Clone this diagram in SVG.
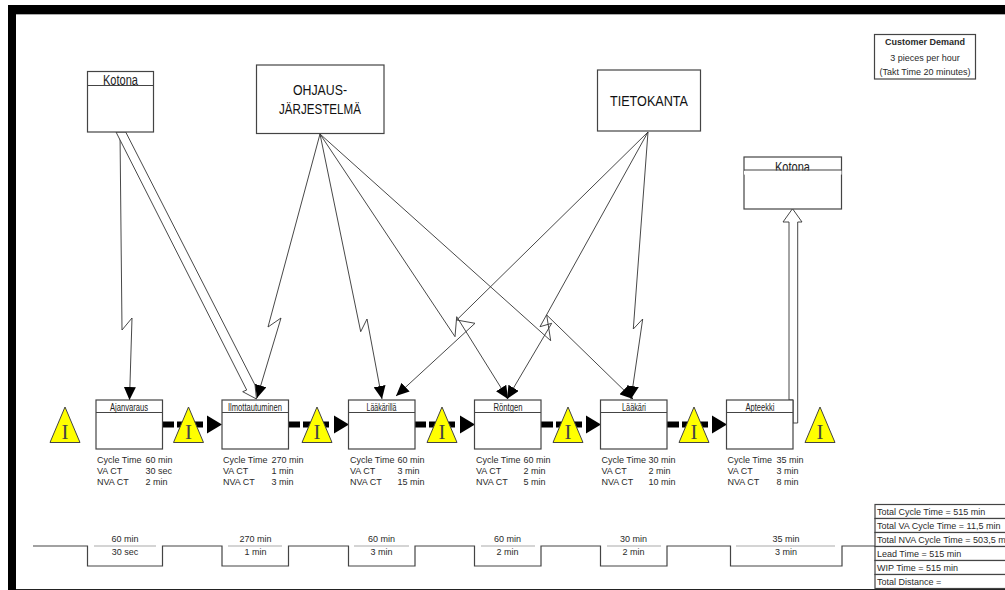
<svg xmlns="http://www.w3.org/2000/svg" width="1005" height="590" viewBox="0 0 1005 590">
<style>
text{font-family:"Liberation Sans",Arial,sans-serif;font-size:9px;fill:#2a2a2a}
.c{text-anchor:middle}
.h{font-size:11px;fill:#222}
.box{fill:#fff;stroke:#444;stroke-width:1.2}
.ln{fill:none;stroke:#444;stroke-width:1.2}
.zig{fill:none;stroke:#333;stroke-width:.9;marker-end:url(#head)}
.out{fill:#fff;stroke:#333;stroke-width:.9}
.push{fill:none;stroke:#000;stroke-width:6;stroke-dasharray:12 3 26 100}
.tri{fill:#ffff00;stroke:#444;stroke-width:1}
.inv{font-family:"Liberation Serif",serif;font-size:21px;fill:#444;text-anchor:middle}
.tl{font-size:9px;text-anchor:middle}
.big{font-size:15px;text-anchor:middle;fill:#111}
.kt{font-size:14px;text-anchor:middle;fill:#222}
.gray{stroke:#aaa;stroke-width:1.2;fill:none}
</style>
<defs>
<marker id="head" markerUnits="userSpaceOnUse" markerWidth="14" markerHeight="12" refX="13" refY="6" orient="auto"><path d="M0 0L13 6L0 12Z" fill="#000"/></marker>
<marker id="pushhead" markerUnits="userSpaceOnUse" markerWidth="16" markerHeight="20" refX="15" refY="10" orient="auto"><path d="M0 1L15 10L0 19Z" fill="#000"/></marker>
</defs>
<g id="frame">
<rect x="8" y="5" width="997" height="9" fill="#000"/>
<rect x="8" y="5" width="8" height="585" fill="#000"/>
<rect x="16" y="14" width="989" height="1" fill="#aaa"/>
<rect x="16" y="589" width="989" height="1" fill="#222"/>
</g>
<g id="connectors">
<polyline class="zig" points="120,132 122,330 132,318 129.500,400"/>
<polygon class="out" points="116,132 125.700,132 255,385 256.500,399 242.700,391.700 246.700,390"/>
<polyline class="zig" points="320,134 268,327 281,318 257,398"/>
<polyline class="zig" points="320,134 360.700,331.700 367,319 382,399"/>
<polyline class="zig" points="320,134 455,336.700 456.700,316.700 508,399"/>
<polyline class="zig" points="320,134 550.700,340.700 546.700,315 633,399"/>
<polyline class="zig" points="648,132 456.700,320 475,323.300 396,396"/>
<polyline class="zig" points="648,132 540,326.700 551.700,323.300 507,399"/>
<polyline class="zig" points="648,132 633.300,329 642.700,319 631,399"/>
<line class="push" x1="162" y1="424.500" x2="222" y2="424.500" marker-end="url(#pushhead)"/>
<line class="push" x1="288" y1="424.500" x2="349" y2="424.500" marker-end="url(#pushhead)"/>
<line class="push" x1="414" y1="424.500" x2="475" y2="424.500" marker-end="url(#pushhead)"/>
<line class="push" x1="541" y1="424.500" x2="601" y2="424.500" marker-end="url(#pushhead)"/>
<line class="push" x1="667" y1="424.500" x2="727" y2="424.500" marker-end="url(#pushhead)"/>
<polygon class="out" points="789,400 789,222 783,222 792.500,208.700 802,222 797.700,222 797.700,423 793,423 793,400"/>
</g>
<g id="kotona-1"><rect class="box" x="87.500" y="71.500" width="66" height="60.500"/><text class="kt" x="120.500" y="84.500" textLength="35" lengthAdjust="spacingAndGlyphs">Kotona</text><line class="ln" x1="87.500" y1="85.500" x2="153.500" y2="85.500"/></g>
<g id="ohjausjarjestelma"><rect class="box" x="256.500" y="65" width="127.500" height="68.500"/><text class="big" x="320" y="95" textLength="54" lengthAdjust="spacingAndGlyphs">OHJAUS-</text><text class="big" x="320" y="114" textLength="82" lengthAdjust="spacingAndGlyphs">JÄRJESTELMÄ</text></g>
<g id="tietokanta"><rect class="box" x="597.500" y="70" width="103" height="61"/><text class="big" x="649" y="106" textLength="78" lengthAdjust="spacingAndGlyphs">TIETOKANTA</text></g>
<g id="kotona-2"><rect class="box" x="744" y="157" width="97.500" height="52"/><text class="kt" x="792.500" y="171.500" textLength="35" lengthAdjust="spacingAndGlyphs">Kotona</text><rect x="744" y="170.600" width="97.500" height="4" fill="#fff"/><line class="ln" x1="744" y1="170" x2="841.500" y2="170"/></g>
<g id="customer-demand"><rect class="box" x="874.500" y="34.500" width="101" height="44.500"/><text class="c" x="925" y="44.500" font-weight="700">Customer Demand</text><text class="c" x="925" y="61">3 pieces per hour</text><text class="c" x="925" y="75">(Takt Time 20 minutes)</text></g>
<g id="inv-1"><polygon class="tri" points="65,407 50,442.500 80,442.500"/><text class="inv" x="65" y="439">I</text></g>
<g id="inv-2"><polygon class="tri" points="188.500,407 173.500,442.500 203.500,442.500"/><text class="inv" x="188.500" y="439">I</text></g>
<g id="inv-3"><polygon class="tri" points="317,407 302,442.500 332,442.500"/><text class="inv" x="317" y="439">I</text></g>
<g id="inv-4"><polygon class="tri" points="442,407 427,442.500 457,442.500"/><text class="inv" x="442" y="439">I</text></g>
<g id="inv-5"><polygon class="tri" points="568,407 553,442.500 583,442.500"/><text class="inv" x="568" y="439">I</text></g>
<g id="inv-6"><polygon class="tri" points="694,407 679,442.500 709,442.500"/><text class="inv" x="694" y="439">I</text></g>
<g id="inv-7"><polygon class="tri" points="820,407 805,442.500 835,442.500"/><text class="inv" x="820" y="439">I</text></g>
<g id="p-ajanvaraus"><rect class="box" x="96" y="400" width="66.500" height="49"/><line class="ln" x1="96" y1="412.500" x2="162.500" y2="412.500"/><text class="c h" x="129" y="410.500" textLength="38" lengthAdjust="spacingAndGlyphs">Ajanvaraus</text>
<text x="97" y="463">Cycle Time</text><text x="145.500" y="463">60 min</text><text x="97" y="474">VA CT</text><text x="145.500" y="474">30 sec</text><text x="97" y="484.500">NVA CT</text><text x="145.500" y="484.500">2 min</text></g>
<g id="p-ilmottautuminen"><rect class="box" x="222" y="400" width="66.500" height="49"/><line class="ln" x1="222" y1="412.500" x2="288.500" y2="412.500"/><text class="c h" x="255" y="410.500" textLength="54" lengthAdjust="spacingAndGlyphs">Ilmottautuminen</text>
<text x="223" y="463">Cycle Time</text><text x="271.500" y="463">270 min</text><text x="223" y="474">VA CT</text><text x="271.500" y="474">1 min</text><text x="223" y="484.500">NVA CT</text><text x="271.500" y="484.500">3 min</text></g>
<g id="p-laakarilla"><rect class="box" x="348.500" y="400" width="66.500" height="49"/><line class="ln" x1="348.500" y1="412.500" x2="415" y2="412.500"/><text class="c h" x="381.500" y="410.500" textLength="30" lengthAdjust="spacingAndGlyphs">Lääkärillä</text>
<text x="350" y="463">Cycle Time</text><text x="397.500" y="463">60 min</text><text x="350" y="474">VA CT</text><text x="397.500" y="474">3 min</text><text x="350" y="484.500">NVA CT</text><text x="397.500" y="484.500">15 min</text></g>
<g id="p-rontgen"><rect class="box" x="474.500" y="400" width="66.500" height="49"/><line class="ln" x1="474.500" y1="412.500" x2="541" y2="412.500"/><text class="c h" x="508" y="410.500" textLength="29" lengthAdjust="spacingAndGlyphs">Röntgen</text>
<text x="476" y="463">Cycle Time</text><text x="523.500" y="463">60 min</text><text x="476" y="474">VA CT</text><text x="523.500" y="474">2 min</text><text x="476" y="484.500">NVA CT</text><text x="523.500" y="484.500">5 min</text></g>
<g id="p-laakari"><rect class="box" x="600.500" y="400" width="66.500" height="49"/><line class="ln" x1="600.500" y1="412.500" x2="667" y2="412.500"/><text class="c h" x="634" y="410.500" textLength="24" lengthAdjust="spacingAndGlyphs">Lääkäri</text>
<text x="601.500" y="463">Cycle Time</text><text x="648.500" y="463">30 min</text><text x="601.500" y="474">VA CT</text><text x="648.500" y="474">2 min</text><text x="601.500" y="484.500">NVA CT</text><text x="648.500" y="484.500">10 min</text></g>
<g id="p-apteekki"><rect class="box" x="726.500" y="400" width="66.500" height="49"/><line class="ln" x1="726.500" y1="412.500" x2="793" y2="412.500"/><text class="c h" x="760" y="410.500" textLength="29" lengthAdjust="spacingAndGlyphs">Apteekki</text>
<text x="727.500" y="463">Cycle Time</text><text x="776.500" y="463">35 min</text><text x="727.500" y="474">VA CT</text><text x="776.500" y="474">3 min</text><text x="727.500" y="484.500">NVA CT</text><text x="776.500" y="484.500">8 min</text></g>
<g id="timeline">
<polyline class="ln" points="33,546 87.500,546 87.500,566 162.500,566 162.500,546 222,546 222,566 288.500,566 288.500,546 348.500,546 348.500,566 415,566 415,546 474.500,546 474.500,566 541,566 541,546 600.500,546 600.500,566 667,566 667,546 730.500,546 730.500,566 842,566 842,546 875,546"/>
<path class="gray" d="M94 546H156M228 546H282M354 546H409M481 546H535M607 546H661M736 546H835"/>
<text class="tl" x="125" y="542">60 min</text><text class="tl" x="125" y="555">30 sec</text>
<text class="tl" x="255.500" y="542">270 min</text><text class="tl" x="255.500" y="555">1 min</text>
<text class="tl" x="381.500" y="542">60 min</text><text class="tl" x="381.500" y="555">3 min</text>
<text class="tl" x="507.500" y="542">60 min</text><text class="tl" x="507.500" y="555">2 min</text>
<text class="tl" x="633.500" y="542">30 min</text><text class="tl" x="633.500" y="555">2 min</text>
<text class="tl" x="786" y="542">35 min</text><text class="tl" x="786" y="555">3 min</text>
</g>
<g id="summary">
<rect class="box" x="875" y="504.500" width="140" height="14"/><text x="877" y="514.500">Total Cycle Time = 515 min</text>
<rect class="box" x="875" y="518.500" width="140" height="14"/><text x="877" y="528.500">Total VA Cycle Time = 11,5 min</text>
<rect class="box" x="875" y="532.500" width="140" height="14"/><text x="877" y="542.500">Total NVA Cycle Time = 503,5 min</text>
<rect class="box" x="875" y="546.500" width="140" height="14"/><text x="877" y="556.500">Lead Time = 515 min</text>
<rect class="box" x="875" y="560.500" width="140" height="14"/><text x="877" y="570.500">WIP Time = 515 min</text>
<rect class="box" x="875" y="574.500" width="140" height="14"/><text x="877" y="584.500">Total Distance =</text>
</g>
</svg>
